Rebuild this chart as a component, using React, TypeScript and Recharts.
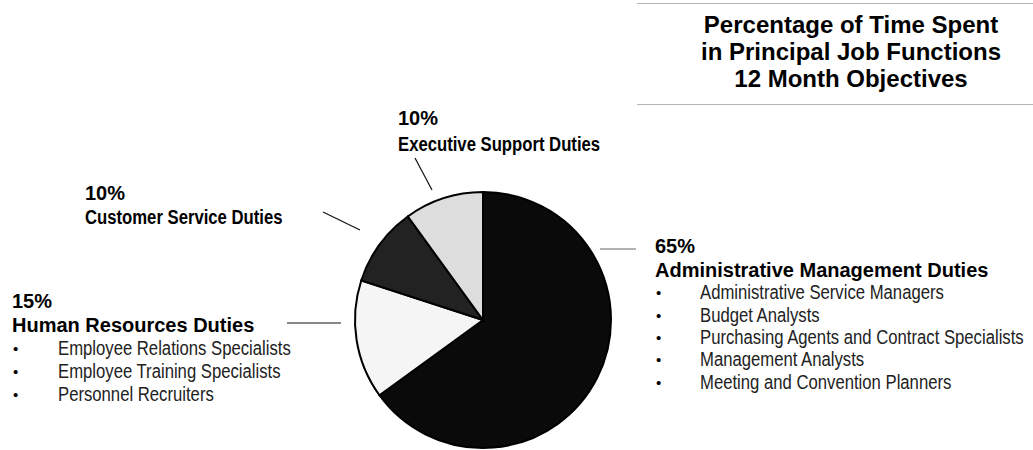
import React from 'react';
import { PieChart, Pie, Cell } from 'recharts';

// share of time per job function, clockwise from 12 o'clock
const categories = [
  'Administrative Management Duties',
  'Human Resources Duties',
  'Customer Service Duties',
  'Executive Support Duties',
];
const shares = [65, 15, 10, 10];
const fills = ['#0a0a0a', '#f5f5f5', '#222222', '#dddddd'];

const adminTitles = [
  'Administrative Service Managers',
  'Budget Analysts',
  'Purchasing Agents and Contract Specialists',
  'Management Analysts',
  'Meeting and Convention Planners',
];
const hrTitles = [
  'Employee Relations Specialists',
  'Employee Training Specialists',
  'Personnel Recruiters',
];
const subItems = [adminTitles, hrTitles, [], []];

const titleLines = [
  'Percentage of Time Spent',
  'in Principal Job Functions',
  '12 Month Objectives',
];

const data = categories.map((name, i) => ({ name, value: shares[i] }));

const SANS = '"Liberation Sans", Arial, sans-serif';
// no Arial Narrow here, so squeeze Liberation Sans horizontally
const NARROW_SCALE = 0.835;

// where each label block sits and where its leader line runs
const labelLayout = [
  { x: 655, y: 253, big: true, gap: 24, itemX: 700, step: 22.3, line: [600, 249, 636, 249], lineColor: '#666' },
  { x: 12, y: 308, big: true, gap: 24, itemX: 58, step: 23, line: [287, 323, 341, 323], lineColor: '#111' },
  { x: 85, y: 200, big: false, gap: 24, itemX: 0, step: 0, line: [323, 212, 360, 230], lineColor: '#111' },
  { x: 398, y: 125, big: false, gap: 26, itemX: 0, step: 0, line: [415, 158, 432, 190], lineColor: '#111' },
];

function Narrow({ x, y, bold, fill, children }: any) {
  return (
    <text
      transform={`translate(${x},${y}) scale(${NARROW_SCALE},1)`}
      fontFamily={SANS}
      fontWeight={bold ? 'bold' : 'normal'}
      fontSize={20}
      fill={fill}
    >
      {children}
    </text>
  );
}

function renderLabel(props: any) {
  const i = props.index;
  const l = labelLayout[i];
  const items = subItems[i];
  const [x1, y1, x2, y2] = l.line;
  return (
    <g key={'lbl' + i}>
      <line x1={x1} y1={y1} x2={x2} y2={y2} stroke={l.lineColor} strokeWidth={1.2} />
      <text x={l.x} y={l.y} fontFamily={SANS} fontWeight="bold" fontSize={20} fill="#000">
        {shares[i]}%
      </text>
      {l.big ? (
        <text x={l.x} y={l.y + l.gap} fontFamily={SANS} fontWeight="bold" fontSize={20} fill="#000">
          {categories[i]}
        </text>
      ) : (
        <Narrow x={l.x} y={l.y + l.gap} bold fill="#000">
          {categories[i]}
        </Narrow>
      )}
      {items.map((t, k) => {
        const yy = l.y + l.gap + (k + 1) * l.step;
        return (
          <g key={t}>
            <text x={l.x + 1} y={yy - 1} fontFamily={SANS} fontSize={15} fill="#000">•</text>
            <Narrow x={l.itemX} y={yy} fill="#222">{t}</Narrow>
          </g>
        );
      })}
    </g>
  );
}

export default function App() {
  return (
    <div style={{ position: 'absolute', left: 0, top: 0, width: 1033, height: 450, background: '#fff' }}>
      <div style={{ position: 'absolute', left: 637, top: 3, width: 396, height: 100, borderTop: '1.5px solid #b5b5b5', borderBottom: '1.5px solid #b5b5b5' }} />
      <div
        style={{
          position: 'absolute',
          left: 651,
          top: 11,
          width: 400,
          textAlign: 'center',
          fontFamily: SANS,
          fontWeight: 'bold',
          fontSize: 24,
          lineHeight: '27px',
          color: '#000',
        }}
      >
        {titleLines.map((t) => (
          <div key={t}>{t}</div>
        ))}
      </div>
      <div style={{ position: 'absolute', left: 0, top: 0 }}>
        <PieChart width={1033} height={450} margin={{ top: 0, right: 0, bottom: 0, left: 0 }}>
          <Pie
            data={data}
            dataKey="value"
            nameKey="name"
            cx={483}
            cy={320}
            outerRadius={128}
            startAngle={90}
            endAngle={-270}
            stroke="#000"
            strokeWidth={2}
            label={renderLabel}
            labelLine={false}
            isAnimationActive={false}
          >
            {data.map((d, i) => (
              <Cell key={d.name} fill={fills[i]} />
            ))}
          </Pie>
        </PieChart>
      </div>
    </div>
  );
}
